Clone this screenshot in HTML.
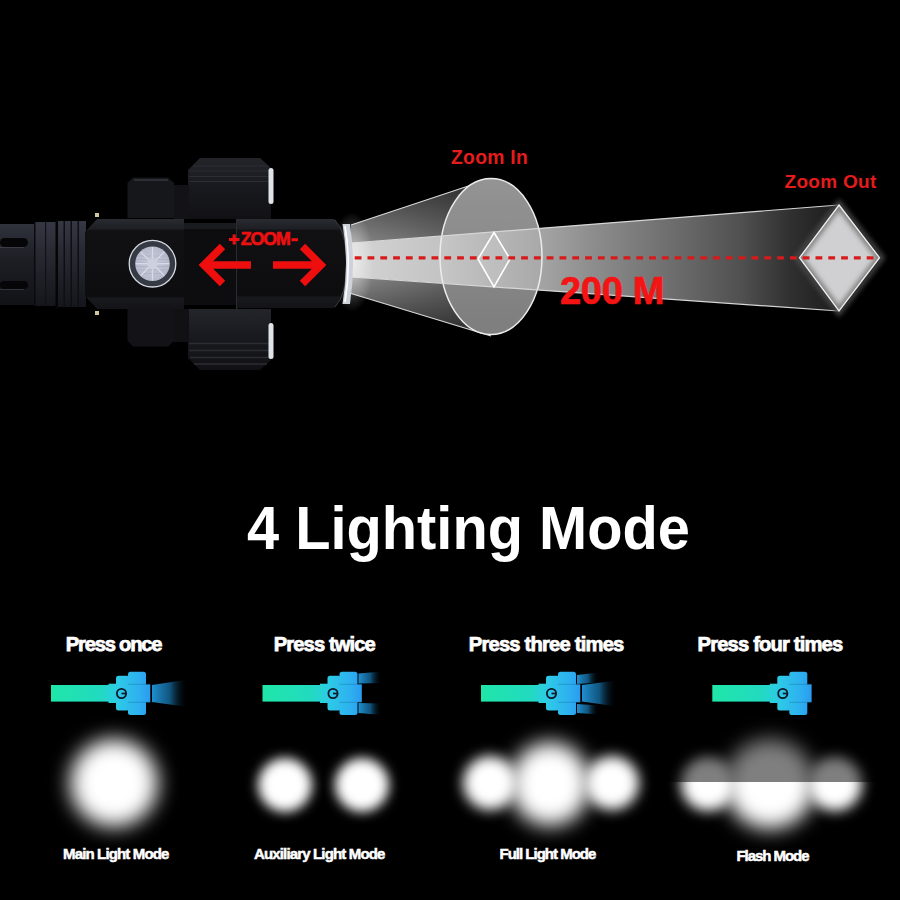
<!DOCTYPE html>
<html><head><meta charset="utf-8">
<style>
html,body{margin:0;padding:0;background:#000;}
body{width:900px;height:900px;position:relative;overflow:hidden;font-family:"Liberation Sans",sans-serif;}
.abs{position:absolute;}
svg{position:absolute;left:0;top:0;}
.t{position:absolute;white-space:nowrap;font-weight:bold;color:#fff;line-height:1;}
.press{-webkit-text-stroke:0.75px #fff;}
.mode{-webkit-text-stroke:0.5px #fff;}
.title{left:246.5px;top:497.6px;font-size:60.7px;transform:scaleX(0.952);transform-origin:0 0;}
.press{font-size:20.2px;letter-spacing:-1.22px;top:634.3px;}
.mode{font-size:15px;letter-spacing:-0.85px;top:846px;}
.red{color:#e41c1c;}
.blob{position:absolute;border-radius:50%;background:#fff;}
</style></head>
<body>

<!-- TOP FLASHLIGHT + BEAM -->
<svg width="900" height="900" viewBox="0 0 900 900">
  <defs>
    <linearGradient id="tube" x1="0" y1="0" x2="0" y2="1">
      <stop offset="0" stop-color="#30333c"/>
      <stop offset="0.12" stop-color="#2a2d35"/>
      <stop offset="0.45" stop-color="#1c1e24"/>
      <stop offset="1" stop-color="#121317"/>
    </linearGradient>
    <linearGradient id="ring" x1="0" y1="0" x2="0" y2="1">
      <stop offset="0" stop-color="#353843"/>
      <stop offset="0.3" stop-color="#2a2c35"/>
      <stop offset="1" stop-color="#15161b"/>
    </linearGradient>
    <linearGradient id="body" x1="0" y1="0" x2="0" y2="1">
      <stop offset="0" stop-color="#2a2b31"/>
      <stop offset="0.11" stop-color="#1e1f24"/>
      <stop offset="0.13" stop-color="#111114"/>
      <stop offset="0.86" stop-color="#0d0d10"/>
      <stop offset="0.88" stop-color="#18191d"/>
      <stop offset="1" stop-color="#141418"/>
    </linearGradient>
    <linearGradient id="aux" x1="0" y1="0" x2="0" y2="1">
      <stop offset="0" stop-color="#24252b"/>
      <stop offset="0.5" stop-color="#18191e"/>
      <stop offset="1" stop-color="#111115"/>
    </linearGradient>
    <linearGradient id="inner" gradientUnits="userSpaceOnUse" x1="351" y1="0" x2="839" y2="0">
      <stop offset="0" stop-color="#d4d4d4"/>
      <stop offset="0.18" stop-color="#c4c4c4"/>
      <stop offset="0.4" stop-color="#a2a2a2"/>
      <stop offset="0.49" stop-color="#8e8e8e"/>
      <stop offset="0.674" stop-color="#6a6a6a"/>
      <stop offset="0.8" stop-color="#505050"/>
      <stop offset="0.9" stop-color="#303030"/>
      <stop offset="1" stop-color="#1c1c1c"/>
    </linearGradient>
    <linearGradient id="coneT" x1="0" y1="0" x2="0" y2="1">
      <stop offset="0" stop-color="#3a3a3a"/>
      <stop offset="1" stop-color="#888"/>
    </linearGradient>
    <linearGradient id="coneB" x1="0" y1="0" x2="0" y2="1">
      <stop offset="0" stop-color="#888"/>
      <stop offset="1" stop-color="#3a3a3a"/>
    </linearGradient>
    <linearGradient id="coneShade" gradientUnits="userSpaceOnUse" x1="351" y1="0" x2="491" y2="0">
      <stop offset="0" stop-color="#000" stop-opacity="0"/>
      <stop offset="1" stop-color="#000" stop-opacity="0.35"/>
    </linearGradient>
    <linearGradient id="ell" x1="0" y1="0" x2="0" y2="1">
      <stop offset="0" stop-color="#8e8e8e"/>
      <stop offset="1" stop-color="#767676"/>
    </linearGradient>
    <radialGradient id="btn" cx="0.5" cy="0.5" r="0.5">
      <stop offset="0" stop-color="#c6cad8"/>
      <stop offset="1" stop-color="#b6bacc"/>
    </radialGradient>
    <radialGradient id="bglow" cx="0.5" cy="0.5" r="0.5">
      <stop offset="0" stop-color="#fff" stop-opacity="0.55"/>
      <stop offset="1" stop-color="#fff" stop-opacity="0"/>
    </radialGradient>
    <filter id="blur2" x="-30%" y="-30%" width="160%" height="160%"><feGaussianBlur stdDeviation="2.5"/></filter>
    <filter id="blur1" x="-30%" y="-30%" width="160%" height="160%"><feGaussianBlur stdDeviation="0.8"/></filter>
  </defs>

  <!-- beam outer cone -->
  <path d="M351 225 L491 178.5 L491 232 L351 243 Z" fill="url(#coneT)"/>
  <path d="M351 277 L491 287 L491 336 L351 293.5 Z" fill="url(#coneB)"/>
  <path d="M351 225 L491 178.5 L491 336 L351 293.5 Z" fill="url(#coneShade)"/>
  <path d="M351 225 L491 178.5 M351 293.5 L491 336" stroke="#d8d8d8" stroke-width="1.2"/>
  <ellipse cx="491" cy="256.5" rx="51" ry="78" fill="url(#ell)"/>
  <!-- long beam -->
  <path d="M351 243 L839 205 L839 311 L351 277 Z" fill="url(#inner)"/>
  <!-- ellipse overlay + outline -->
  <ellipse cx="491" cy="256.5" rx="51" ry="78" fill="#fff" fill-opacity="0.06" stroke="#ececec" stroke-width="1.5"/>
  <path d="M351 243 L839 205 M351 277 L839 311" stroke="#d6d6d6" stroke-width="1.2"/>
  <!-- bezel glow -->
  <ellipse cx="352" cy="262" rx="22" ry="50" fill="url(#bglow)"/>
  <!-- small diamond -->
  <path d="M494 232.5 L510 259 L494 287 L478 259 Z" fill="#fff" fill-opacity="0.12" stroke="#fff" stroke-width="1.6"/>
  <!-- big diamond -->
  <clipPath id="dclip"><path d="M839 205 L879.5 257.7 L839 311 L799.5 257.7 Z"/></clipPath>
  <path d="M839 203 L882 257.7 L839 313 L797 257.7 Z" fill="none" stroke="#4a4a4a" stroke-width="5" filter="url(#blur2)"/>
  <path d="M839 205 L879.5 257.7 L839 311 L799.5 257.7 Z" fill="#d0d0d2"/>
  <g clip-path="url(#dclip)"><path d="M839 205 L879.5 257.7 L839 311 L799.5 257.7 Z" fill="none" stroke="#808080" stroke-width="7" filter="url(#blur2)"/></g>
  <path d="M839 205 L879.5 257.7 L839 311 L799.5 257.7 Z" fill="none" stroke="#f0f0f0" stroke-width="1.3"/>
  <!-- dashed line -->
  <line x1="354.7" y1="257.8" x2="875" y2="257.8" stroke="#d81a1a" stroke-width="3.2" stroke-dasharray="6.8 6"/>

  <!-- tube -->
  <rect x="0" y="224" width="86" height="81" fill="url(#tube)"/>
  <rect x="0" y="238" width="28" height="9" rx="4.5" fill="#060608"/>
  <path d="M0 247.5 H24" stroke="#3a3d46" stroke-width="1"/>
  <rect x="0" y="281" width="28" height="8" rx="4" fill="#060608"/>
  <path d="M0 289.5 H24" stroke="#30333b" stroke-width="1"/>
  <rect x="34" y="222" width="22" height="84" fill="url(#ring)"/>
  <rect x="34" y="222" width="1.5" height="84" fill="#0a0a0c"/>
  <rect x="45" y="222" width="1.2" height="84" fill="#111216"/>
  <rect x="55.5" y="219" width="2.5" height="90" fill="#050506"/>
  <rect x="58" y="221" width="28" height="86" fill="url(#ring)"/>
  <rect x="63.5" y="221" width="1.5" height="86" fill="#0e0f12"/>
  <rect x="70.5" y="221" width="1.5" height="86" fill="#0e0f12"/>
  <rect x="77.5" y="221" width="1.5" height="86" fill="#0e0f12"/>
  <!-- screws -->
  <rect x="95" y="213" width="4" height="4" fill="#cfc8a0"/>
  <rect x="95" y="311" width="4" height="4" fill="#cfc8a0"/>

  <!-- top aux box -->
  <path d="M188 219 L188 170 L200 158 L260 158 L271 168 L271 219 Z" fill="url(#aux)"/>
  <path d="M193 166 H268 M190 171 H270 M189 176.5 H271 M189 181.5 H271" stroke="#2c2d33" stroke-width="1.2"/>
  <rect x="268.5" y="168" width="5" height="36" rx="2.5" fill="#dfe3ea"/>
  <!-- top knob -->
  <path d="M127.5 218 L127.5 183 L133 177.5 L168 177.5 L174 183 L174 218 Z" fill="#16171b"/>
  <path d="M134 180 H168" stroke="#2e2f35" stroke-width="2"/>
  <rect x="174" y="185" width="15" height="34" fill="#131317"/>
  <!-- bottom aux box -->
  <path d="M188 309 L188 358 L200 370 L260 370 L271 360 L271 309 Z" fill="url(#aux)"/>
  <path d="M194 364 H267 M190 357.5 H270 M189 350.5 H271 M189 343.5 H271" stroke="#2c2d33" stroke-width="1.3"/>
  <rect x="268.5" y="323" width="5" height="36" rx="2.5" fill="#dfe3ea"/>
  <!-- bottom knob -->
  <path d="M127.5 309 L127.5 341 L133 346.5 L168 346.5 L174 341 L174 309 Z" fill="#131317"/>
  <rect x="174" y="309" width="15" height="33" fill="#111114"/>

  <!-- head block -->
  <path d="M85 232 L97 219 L184 219 L184 309 L97 309 L85 296 Z" fill="url(#body)"/>
  <!-- middle section -->
  <rect x="184" y="223" width="53" height="82" fill="#0d0d10"/>
  <rect x="184" y="223" width="53" height="6" fill="#1a1b1f"/>
  <rect x="236" y="219" width="1.5" height="90" fill="#2a2b30"/>
  <!-- zoom head -->
  <path d="M237 219 L334 219 Q346 232 346 263.5 Q346 295 334 308 L237 308 Z" fill="url(#body)"/>
  <path d="M335 220 Q347 233 347 263.5 Q347 294 335 307" stroke="#3a3d45" stroke-width="1" fill="none"/>
  <!-- bezel -->
  <path d="M342.5 224 Q349.5 264 342.5 304 L350 304 Q356 264 350 224 Z" fill="#cdd2da"/>
  <path d="M345 226 Q351.5 264 345 302" stroke="#ffffff" stroke-width="1.6" fill="none"/>

  <!-- button -->
  <circle cx="152.5" cy="263.7" r="23.3" fill="#363a44" stroke="#d4d8e0" stroke-width="1.3"/>
  <circle cx="152.5" cy="263.7" r="17.3" fill="url(#btn)"/>
  <g stroke="#a6aabc" stroke-width="0.7" opacity="0.8">
    <path d="M137 256 H168 M136 259.5 H169 M136 263 H169 M136 266.5 H169 M137 270 H168 M138 273.5 H167"/>
  </g>
  <g stroke="#d6daea" stroke-width="1.3">
    <path d="M152.5 247 V280.4 M135.8 263.7 H169.2 M140.7 251.9 L164.3 275.5 M164.3 251.9 L140.7 275.5"/>
  </g>
  <circle cx="152.5" cy="263.7" r="5.2" fill="#cdd1df"/>

  <!-- red arrows -->
  <path d="M251 265 L204 265 M222.5 246.5 L204 265 L222.5 283.5" stroke="#ee0e0e" stroke-width="7.6" fill="none" stroke-linejoin="miter"/>
  <path d="M273 265 L321 265 M302.5 246.5 L321 265 L302.5 283.5" stroke="#ee0e0e" stroke-width="7.6" fill="none" stroke-linejoin="miter"/>
  <!-- +ZOOM- -->
  <path d="M229 239.5 H239.5 M234.2 234.5 V244.5" stroke="#ee1010" stroke-width="3.2"/>
  <rect x="291.5" y="238.2" width="6.5" height="3" fill="#ee1010"/>
</svg>

<div class="t red" style="left:240.8px;top:231px;font-size:17.8px;letter-spacing:-1.1px;-webkit-text-stroke:0.6px #ee1010;color:#ee1010;">ZOOM</div>
<div class="t red" style="left:451px;top:147.8px;font-size:19.3px;letter-spacing:0.3px;">Zoom In</div>
<div class="t red" style="left:784.5px;top:172px;font-size:19px;letter-spacing:0.3px;">Zoom Out</div>
<div class="t red" style="left:560px;top:271.8px;font-size:38px;color:#f51414;-webkit-text-stroke:0.7px #f51414;letter-spacing:-0.3px;">200 M</div>


<!-- BLOBS -->
<div class="blob" style="left:70px;top:739px;width:88px;height:88px;filter:blur(10px);"></div>
<div class="blob" style="left:257.5px;top:758px;width:54px;height:54px;filter:blur(6px);"></div>
<div class="blob" style="left:334.5px;top:758px;width:54px;height:54px;filter:blur(6px);"></div>
<div class="abs" style="left:440px;top:720px;width:220px;height:130px;">
  <div class="blob" style="left:23px;top:36px;width:54px;height:54px;filter:blur(6.5px);"></div>
  <div class="blob" style="left:70px;top:22px;width:80px;height:84px;filter:blur(10px);"></div>
  <div class="blob" style="left:145px;top:36px;width:54px;height:54px;filter:blur(6.5px);"></div>
</div>
<div class="abs" style="left:660px;top:720px;width:220px;height:130px;">
  <div class="blob" style="left:21px;top:37px;width:54px;height:54px;filter:blur(6.5px);"></div>
  <div class="blob" style="left:65px;top:19px;width:90px;height:90px;filter:blur(10px);"></div>
  <div class="blob" style="left:148px;top:37px;width:54px;height:54px;filter:blur(6.5px);"></div>
  <div class="abs" style="left:0;top:0;width:220px;height:62px;background:rgba(0,0,0,0.5);"></div>
</div>

<!-- CYAN FLASHLIGHT ICONS -->
<svg width="900" height="900" viewBox="0 0 900 900">
  <defs>
    <linearGradient id="cy" gradientUnits="userSpaceOnUse" x1="0" y1="0" x2="99" y2="0">
      <stop offset="0" stop-color="#1fe6a8"/>
      <stop offset="0.5" stop-color="#22dac0"/>
      <stop offset="0.6" stop-color="#28d2d8"/>
      <stop offset="0.69" stop-color="#2ec8e8"/>
      <stop offset="0.89" stop-color="#2eb0f0"/>
      <stop offset="1" stop-color="#2a9cf0"/>
    </linearGradient>
    <linearGradient id="bm" x1="0" y1="0" x2="1" y2="0">
      <stop offset="0" stop-color="#1f8fd0"/>
      <stop offset="0.5" stop-color="#135e8c" stop-opacity="0.9"/>
      <stop offset="1" stop-color="#000" stop-opacity="0"/>
    </linearGradient>
    <g id="fl">
      <rect x="0" y="0" width="58.5" height="16.6" fill="url(#cy)"/>
      <rect x="57.5" y="-1.3" width="8" height="19.3" fill="url(#cy)"/>
      <rect x="65" y="-9.2" width="13.5" height="34.6" rx="2.5" fill="url(#cy)"/>
      <rect x="77" y="-13.2" width="18" height="43.2" rx="2.5" fill="url(#cy)"/>
      <rect x="65" y="-0.7" width="34.3" height="18" fill="url(#cy)"/>
      <path d="M77 -0.7 H99.3 M77 17.3 H99.3" stroke="#0b4a6a" stroke-opacity="0.35" stroke-width="0.8"/>
      <circle cx="70.5" cy="8.5" r="4.6" stroke="#0a1a26" stroke-width="1.8" fill="none"/>
      <path d="M70.5 8.5 H75.5" stroke="#0a1a26" stroke-width="1.7"/>
    </g>
  </defs>
  <!-- once -->
  <path d="M152 685 L188 679.5 L188 707 L152 702 Z" fill="url(#bm)"/>
  <use href="#fl" transform="translate(51 685)"/>
  <!-- twice -->
  <path d="M358.5 673.5 L382 671.5 L382 683 L358.5 683.5 Z" fill="url(#bm)"/>
  <path d="M358.5 703 L382 703.5 L382 715 L358.5 713 Z" fill="url(#bm)"/>
  <use href="#fl" transform="translate(262.5 685)"/>
  <!-- three -->
  <path d="M577 675 L599 672.5 L599 682.5 L577 684 Z" fill="url(#bm)"/>
  <path d="M582 685 L617 680.5 L617 706.5 L582 701.5 Z" fill="url(#bm)"/>
  <path d="M577 704 L599 705.5 L599 714.5 L577 713 Z" fill="url(#bm)"/>
  <use href="#fl" transform="translate(481 685)"/>
  <!-- four -->
  <use href="#fl" transform="translate(712.3 685)"/>
</svg>

<div class="t title">4 Lighting Mode</div>

<!-- labels -->
<div class="t press" style="left:65.8px;">Press once</div>
<div class="t press" style="left:273.8px;letter-spacing:-0.92px;">Press twice</div>
<div class="t press" style="left:468.8px;letter-spacing:-0.8px;">Press three times</div>
<div class="t press" style="left:697.6px;letter-spacing:-0.84px;">Press four times</div>

<div class="t mode" style="left:63px;">Main Light Mode</div>
<div class="t mode" style="left:254px;">Auxiliary Light Mode</div>
<div class="t mode" style="left:499.5px;letter-spacing:-1.0px;">Full Light Mode</div>
<div class="t mode" style="left:736.5px;top:847.5px;letter-spacing:-1.05px;">Flash Mode</div>

</body></html>
